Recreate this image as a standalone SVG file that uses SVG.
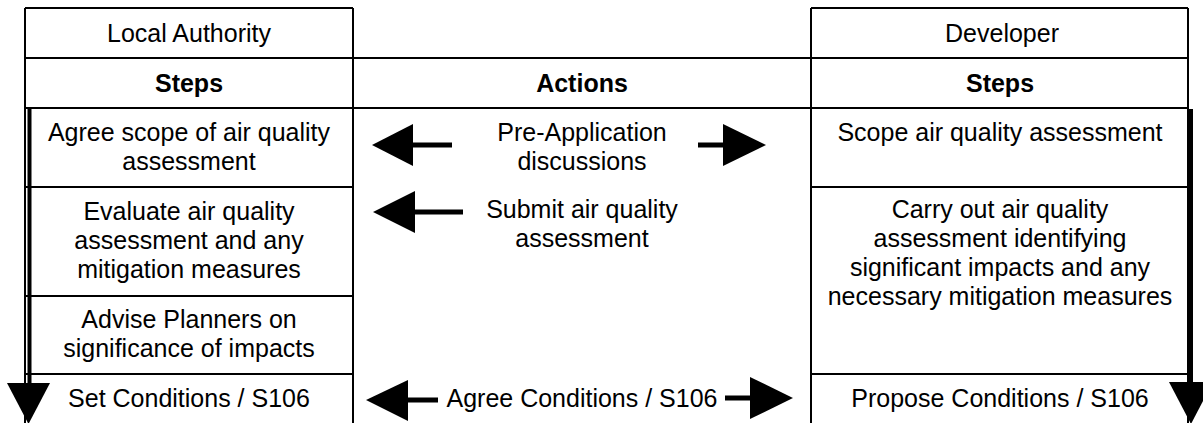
<svg xmlns="http://www.w3.org/2000/svg" width="1203" height="423" viewBox="0 0 1203 423">
  <style>
    .ln { stroke: #000; stroke-width: 2; fill: none; }
    .t { font-family: "Liberation Sans", Arial, sans-serif; font-size: 25px; fill: #000; text-anchor: middle; }
    .b { font-weight: bold; }
    .ar { fill: #000; stroke: none; }
  </style>
  <rect width="1203" height="423" fill="#fff"/>

  <g id="local-authority">
    <path class="ln" d="M25 8 H353 M25 58 H353 M25 108 H353 M25 187 H353 M25 296 H353 M25 374 H353 M25 8 V423 M353 8 V423"/>
    <text class="t" x="189" y="42">Local Authority</text>
    <text class="t b" x="189" y="92">Steps</text>
    <text class="t" x="189" y="141"><tspan x="189">Agree scope of air quality</tspan><tspan x="189" dy="29">assessment</tspan></text>
    <text class="t" x="189" y="220"><tspan x="189">Evaluate air quality</tspan><tspan x="189" dy="29">assessment and any</tspan><tspan x="189" dy="29">mitigation measures</tspan></text>
    <text class="t" x="189" y="328"><tspan x="189">Advise Planners on</tspan><tspan x="189" dy="29">significance of impacts</tspan></text>
    <text class="t" x="189" y="407">Set Conditions / S106</text>
  </g>

  <g id="actions">
    <path class="ln" d="M353 58 H811 M353 108 H811"/>
    <text class="t b" x="582" y="92">Actions</text>
    <text class="t" x="582" y="141"><tspan x="582">Pre-Application</tspan><tspan x="582" dy="29">discussions</tspan></text>
    <text class="t" x="582" y="218"><tspan x="582">Submit air quality</tspan><tspan x="582" dy="29">assessment</tspan></text>
    <text class="t" x="582" y="407">Agree Conditions / S106</text>
  </g>

  <g id="developer">
    <path class="ln" d="M811 8 H1188 M811 58 H1188 M811 108 H1188 M811 187 H1188 M811 374 H1188 M811 8 V423 M1188 8 V423"/>
    <text class="t" x="1002" y="42">Developer</text>
    <text class="t b" x="1000" y="92">Steps</text>
    <text class="t" x="1000" y="141">Scope air quality assessment</text>
    <text class="t" x="1000" y="218"><tspan x="1000">Carry out air quality</tspan><tspan x="1000" dy="29">assessment identifying</tspan><tspan x="1000" dy="29">significant impacts and any</tspan><tspan x="1000" dy="29">necessary mitigation measures</tspan></text>
    <text class="t" x="1000" y="407">Propose Conditions / S106</text>
  </g>

  <g id="connectors">
    <!-- Pre-application -->
    <rect class="ar" x="412" y="142.5" width="40" height="5"/>
    <polygon class="ar" points="372,145 413,124 413,166"/>
    <rect class="ar" x="698" y="142.5" width="26" height="5"/>
    <polygon class="ar" points="766,145 723,124 723,166"/>
    <!-- Submit -->
    <rect class="ar" x="414" y="209.5" width="49" height="5"/>
    <polygon class="ar" points="373,212 415,191 415,233"/>
    <!-- Agree conditions -->
    <rect class="ar" x="407" y="397.5" width="31" height="5"/>
    <polygon class="ar" points="366,400 408,380 408,421"/>
    <rect class="ar" x="725" y="395.5" width="26" height="5"/>
    <polygon class="ar" points="793,398 750,377 750,419"/>
    <!-- Local authority flow -->
    <rect class="ar" x="27.5" y="109" width="4" height="275"/>
    <polygon class="ar" points="7,383 50,383 28.5,424"/>
    <!-- Developer flow -->
    <rect class="ar" x="1188" y="109" width="5" height="274"/>
    <polygon class="ar" points="1169,382 1213,382 1191,424"/>
  </g>
</svg>
